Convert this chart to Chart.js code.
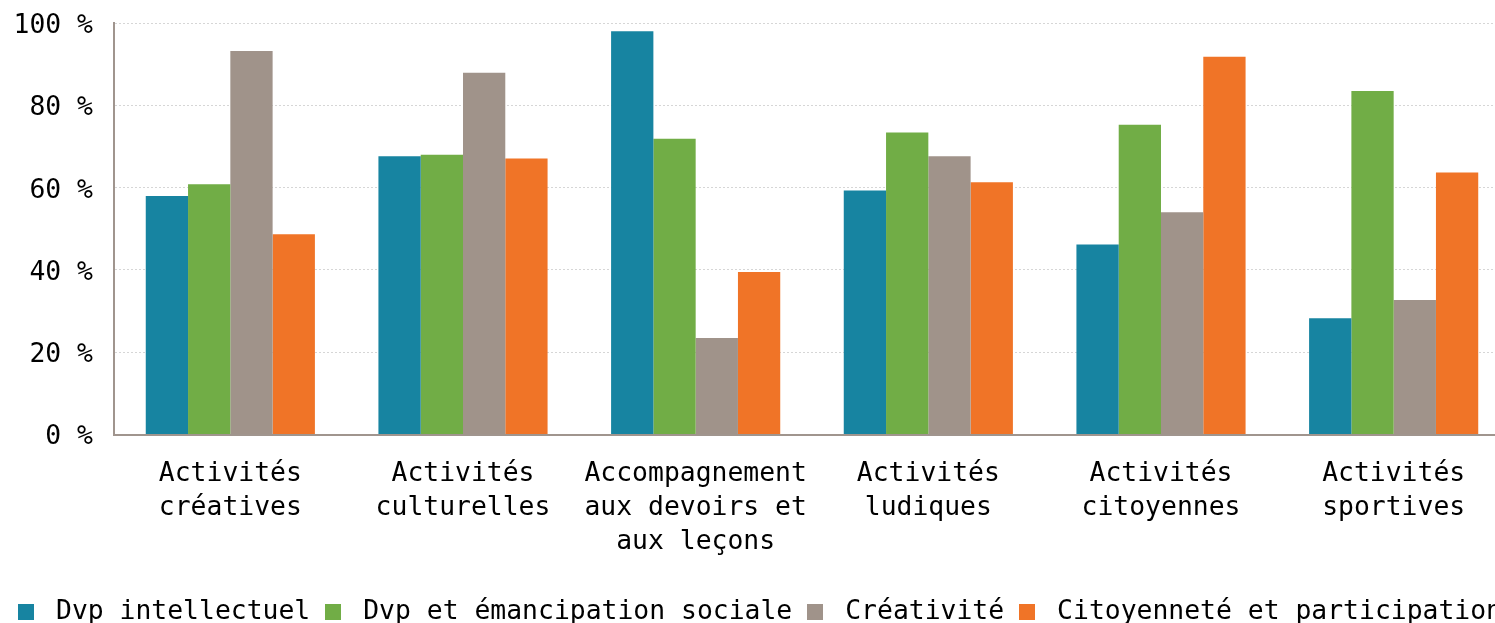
<!DOCTYPE html>
<html>
<head>
<meta charset="utf-8">
<script src="https://cdn.jsdelivr.net/npm/chart.js@4/dist/chart.umd.min.js"></script>
<style>
  html, body { margin: 0; padding: 0; background: #fff; }
  #wrap { position: relative; width: 1495px; height: 623px; overflow: hidden; }
  #legend { position: absolute; left: 18px; top: 594px; white-space: nowrap;
    font-family: "DejaVu Sans Mono", monospace; font-size: 26.4px; color: #000; line-height: 32px; }
  #legend span.box { display: inline-block; width: 16px; height: 16px; vertical-align: -1px; margin-right: 22px; }
  #legend span.item { margin-right: 15px; }
</style>
</head>
<body>
<div id="wrap">
  <canvas id="myChart" width="1510" height="623"></canvas>
  <div id="legend"></div>
</div>
<script>
var categories = [
  ["Activités", "créatives"],
  ["Activités", "culturelles"],
  ["Accompagnement", "aux devoirs et", "aux leçons"],
  ["Activités", "ludiques"],
  ["Activités", "citoyennes"],
  ["Activités", "sportives"]
];
var seriesNames = ["Dvp intellectuel", "Dvp et émancipation sociale", "Créativité", "Citoyenneté et participation"];
var seriesColors = ["#1784a1", "#71ad46", "#a0938a", "#f07427"];

var dvpIntellectuel = [58, 67.6, 98, 59.3, 46.2, 28.3];
var dvpEmancipation = [60.8, 68, 71.9, 73.4, 75.3, 83.5];
var creativite = [93.2, 87.9, 23.5, 67.6, 54, 32.7];
var citoyennete = [48.7, 67.1, 39.5, 61.3, 91.8, 63.7];

var yTicks = [0, 20, 40, 60, 80, 100];

Chart.defaults.font.family = "'DejaVu Sans Mono', monospace";
Chart.defaults.font.size = 26.4;
Chart.defaults.color = "#000";

var allData = [dvpIntellectuel, dvpEmancipation, creativite, citoyennete];
var datasets = [];
for (var i = 0; i < allData.length; i++) {
  datasets.push({
    label: seriesNames[i],
    data: allData[i],
    backgroundColor: seriesColors[i],
    borderWidth: 0,
    barPercentage: 1,
    categoryPercentage: 0.727
  });
}

// canvas is a bit wider than the window: the plot runs off the right edge like the original
var ctx = document.getElementById("myChart").getContext("2d");
var chart = new Chart(ctx, {
  type: "bar",
  data: { labels: categories, datasets: datasets },
  options: {
    responsive: false,
    animation: false,
    layout: { padding: { top: 0, left: 14, right: 0, bottom: 41 } },
    plugins: { legend: { display: false }, tooltip: { enabled: false } },
    scales: {
      x: {
        grid: { display: false, drawTicks: false },
        border: { color: "#a0958e", width: 2 },
        ticks: { maxRotation: 0, autoSkip: false, padding: 23, font: { lineHeight: 1.28 } }
      },
      y: {
        min: yTicks[0],
        max: yTicks[yTicks.length - 1],
        grid: { color: "#d6d6d6", drawTicks: false, lineWidth: 1 },
        border: { color: "#a0958e", width: 2, dash: [2, 2] },
        afterFit: function (scale) { scale.width = 100; scale.paddingTop = 23; },
        ticks: {
          stepSize: 20,
          padding: 21,
          labelOffset: 3,
          callback: function (v) { return v + " %"; }
        }
      }
    }
  }
});

var legend = document.getElementById("legend");
for (var j = 0; j < seriesNames.length; j++) {
  var item = document.createElement("span");
  item.className = "item";
  var box = document.createElement("span");
  box.className = "box";
  box.style.background = seriesColors[j];
  item.appendChild(box);
  item.appendChild(document.createTextNode(seriesNames[j]));
  legend.appendChild(item);
}
</script>
</body>
</html>
